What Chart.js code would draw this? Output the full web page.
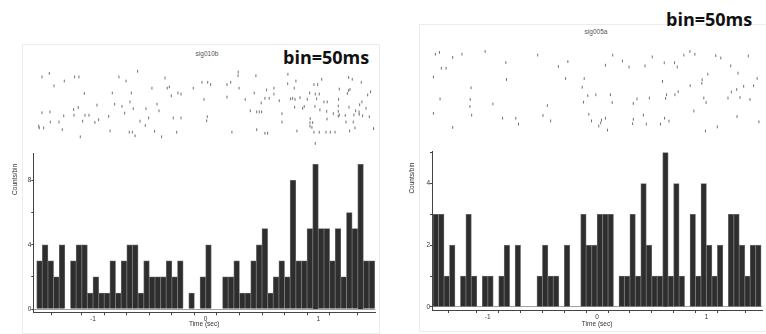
<!DOCTYPE html>
<html>
<head>
<meta charset="utf-8">
<script src="https://cdn.jsdelivr.net/npm/chart.js@4.4.1/dist/chart.umd.min.js"></script>
<style>
  body { margin: 0; background: #fff; }
  #page { position: relative; width: 766px; height: 334px; overflow: hidden; font-family: "Liberation Sans", Arial, sans-serif; }
  .frame { position: absolute; border: 1px solid #ececec; }
  .box { position: absolute; }
  .sig { position: absolute; font-size: 6.5px; line-height: 8px; color: #555; transform: translateX(-50%); }
  .bin { position: absolute; font-family: "Open Sans", sans-serif; font-weight: 700; font-size: 18px; line-height: 18px; color: #111; }
</style>
</head>
<body>
<div id="page">
  <div class="frame" style="left:22px;top:44px;width:356px;height:288px"></div>
  <div class="frame" style="left:419px;top:24px;width:346px;height:306px"></div>
  <span class="sig" style="left:207px;top:50px">sig010b</span>
  <span class="sig" style="left:596px;top:28px">sig005a</span>
  <span class="bin" style="left:283px;top:48px">bin=50ms</span>
  <span class="bin" style="left:666px;top:10px">bin=50ms</span>

  <div class="box" style="left:0;top:60px;width:383px;height:92px"><canvas id="rasterA"></canvas></div>
  <div class="box" style="left:0;top:145px;width:383px;height:189px"><canvas id="histA"></canvas></div>
  <div class="box" style="left:383px;top:38px;width:383px;height:102px"><canvas id="rasterB"></canvas></div>
  <div class="box" style="left:383px;top:140px;width:383px;height:194px"><canvas id="histB"></canvas></div>
</div>
<script>
// 60 bins of 50 ms, -1.5 s .. 1.5 s
const binWidth = 0.05
const binCenters = Array.from({length: 60}, (_, i) => -1.5 + binWidth * (i + 0.5))

// sig010b counts/bin
const countsA = [3,4,3,2,4,0,3,4,4,1, 2,1,1,3,1,3,4,4,1,3, 2,2,2,3,2,3,0,1,0,2,
                 4,0,0,2,2,3,1,1,3,4, 5,1,2,3,2,8,3,3,5,9, 5,5,3,5,2,6,5,9,3,3]
// sig005a counts/bin
const countsB = [3,3,1,2,0,1,3,1,0,1, 1,0,1,2,0,2,0,0,0,1, 2,1,1,0,2,0,0,3,2,2,
                 3,3,3,0,1,1,3,1,4,2, 1,1,5,1,4,1,0,3,1,4, 2,1,2,0,3,3,2,1,2,2]

// raster ticks, sig010b: spike time (s) and trial row
const spikeTimesA = [-1.453,-1.388,-1.346,-1.255,-1.163,-1.125,-1.077,-0.770,-0.707,-0.604,-0.829,-0.660,-0.477,-0.361,-0.341,-0.323,-0.305,-0.246,-0.219,-0.110,-0.033,-0.015,
  -1.453,-1.382,-1.260,-1.172,-1.131,-1.169,-1.071,-1.036,-0.965,-0.808,-0.743,-0.672,-0.643,-0.719,-0.861,-0.530,-0.432,-0.414,-0.506,-0.583,-0.288,-0.219,
  -1.379,-1.302,-1.092,-0.950,-0.983,-1.482,-1.477,-1.438,-1.273,-1.113,-0.849,-0.678,-0.651,-0.627,-0.536,-0.453,-0.391,-0.257,
  0.018,0.044,0.189,0.222,0.289,0.287,0.296,0.446,0.730,0.801,0.728,0.961,0.994,1.030,1.269,1.301,1.381,0.606,0.541,0.786,1.186,1.281,1.269,1.257,1.464,1.438,
  0.431,0.606,0.923,0.973,1.008,0.189,0.351,0.526,0.564,0.653,0.754,0.772,0.793,0.837,0.902,0.985,1.050,1.079,1.180,1.387,1.367,0.493,0.790,0.875,0.861,0.970,
  1.014,1.074,1.177,1.177,1.272,1.331,1.361,1.363,1.393,1.423,1.239,1.186,1.177,1.133,1.316,1.452,0.396,0.453,0.476,0.497,0.677,0.014,0.009,0.677,0.928,0.926,
  0.950,0.926,0.943,1.077,1.245,1.310,1.325,1.278,1.490,0.233,0.453,0.526,0.550,0.810,0.961,1.008,1.068,1.106,1.148,0.973]
const spikeTrialsA = [6.7,4.7,11.7,9,6.7,6.7,16,6.7,9,3.5,15.7,15.7,13,7.3,13,12.3,17.3,15.7,16.3,13,9.7,19.3,
  26.8,26.3,28.5,25,23.8,28.2,28.2,28.2,22.5,22,23.2,20.7,24.5,27,28.8,24.5,22,25.7,29.7,31.5,29.7,29.7,
  32,32,31.5,30.7,32.2,34.3,35.3,35.3,36.3,40.3,37,37.7,37.7,39.7,34,37.2,40.3,37.7,
  9.7,11,11,9.7,4,6,13,6,5.2,9,10.5,11,11,8,7,8,9.7,13,14,13,13.5,13.7,14.3,16,15,16.8,
  15.7,16.3,15.7,16.3,16.3,18,19.3,18.7,18.7,20,19,18.7,19.3,18.3,19.3,19,20.7,20.7,19.3,20.7,22.3,21.3,23.7,23.3,24.3,23.2,
  25.2,26,23,26,23.7,25.7,26.3,27.7,28.5,24.3,28.3,28,28.7,27.3,28,29,25.7,26.3,26.3,26.3,27.3,29,31.3,32,30,32.3,
  32.3,34.3,35,30.3,32,32,35.3,37,35.7,37.7,36.3,38.3,38.3,37,37.7,37.7,37.7,37.7,37.7,44]

// raster ticks, sig005a
const spikeTimesB = [-1.479,-1.442,-1.320,-1.235,-1.022,-0.832,-0.540,-0.263,-0.350,-1.424,-1.381,-1.497,-0.826,-0.284,-0.113,-1.152,-0.131,
  -1.436,-1.159,-1.162,-0.951,-0.451,-0.080,-0.119,-1.497,-1.146,-0.862,-0.741,-0.716,-0.491,-0.421,-0.070,-0.046,-1.320,
  0.149,0.082,0.238,0.299,0.512,0.445,0.622,0.716,0.741,0.802,0.857,0.903,1.095,1.141,1.393,1.232,1.299,1.022,0.606,0.970,0.967,0.860,
  1.475,1.442,1.351,1.287,1.238,0.750,0.720,0.643,0.634,0.485,0.372,0.338,-0.006,0.128,0.144,0.985,1.006,1.207,1.317,1.409,0.894,
  0.430,0.046,0.039,0.082,0.021,0.101,0.338,0.332,0.625,0.665,0.457,0.588,1.290,1.109,1.000,1.491]
const spikeTrialsB = [6.2,5.2,8,6.2,4.7,10.8,6.7,10.3,13,14,14,18.8,20.2,19.7,19.7,24.8,24.5,
  31,31.3,35.2,33.8,34.7,29.2,32.8,39,40,41.7,41.7,45,40.2,43.2,39.5,43.2,46.8,
  6.7,12.3,10,13.3,7.7,12.7,11,11,13.3,6.7,4.7,6.2,7,8.3,7.2,12.7,16.7,17.3,21.3,20.3,22.3,23.7,
  19.7,23.7,24,25.8,27.2,27,28.7,28.7,30.7,30.5,31,33.5,28.7,28.7,33,30.5,33,30.5,30.2,31.3,37.7,
  40,42.7,44.3,41.7,46,48.3,42.3,44.7,41.7,43.3,45,45,40.8,46.5,48.8,43.7]

const textColor = '#333'
const tinyFont = {family: 'Liberation Sans', size: 6.5}

const rasterChart = (id, times, trials, p) => {
  new Chart(document.getElementById(id), {
    type: 'scatter',
    data: {
      datasets: [{
        data: times.map((t, i) => ({x: t, y: trials[i]})),
        pointStyle: 'line',
        rotation: 90,
        radius: 1.4,
        borderWidth: 1,
        borderColor: '#707070',
      }]
    },
    options: {
      responsive: true,
      maintainAspectRatio: false,
      animation: false,
      layout: {padding: {left: p.left, right: p.right, top: 0, bottom: 0}},
      plugins: {legend: {display: false}, tooltip: {enabled: false}},
      scales: {
        x: {type: 'linear', min: p.xMin, max: p.xMax, display: false},
        y: {min: 0, max: p.trials, reverse: true, display: false},
      }
    }
  })
}

const histChart = (id, counts, p) => {
  new Chart(document.getElementById(id), {
    type: 'bar',
    data: {
      datasets: [{
        data: counts.map((c, i) => ({x: binCenters[i], y: c})),
        backgroundColor: '#2e2e2e',
        borderColor: '#6e6e6e',
        borderWidth: 0.8,
        barPercentage: 1,
        categoryPercentage: 1,
      }]
    },
    options: {
      responsive: true,
      maintainAspectRatio: false,
      animation: false,
      layout: {padding: {left: 0, right: p.right, top: p.top, bottom: 0}},
      plugins: {legend: {display: false}, tooltip: {enabled: false}},
      scales: {
        x: {
          type: 'linear', offset: false, min: p.xMin, max: p.xMax,
          grid: {drawOnChartArea: false, tickLength: 3, tickColor: '#444'},
          border: {color: '#444', width: 1},
          ticks: {
            stepSize: 0.2, autoSkip: false, maxRotation: 0, padding: 0, font: tinyFont, color: textColor,
            callback: v => Math.abs(v - Math.round(v)) < 1e-6 ? String(Math.round(v)) : ''
          },
          title: {display: true, text: 'Time (sec)', font: tinyFont, color: textColor, padding: {top: 0, bottom: 6}},
          afterFit: s => { s.height = p.xH }
        },
        y: {
          min: p.yMin, max: p.yMax,
          grid: {
            drawOnChartArea: true, tickLength: 2, tickColor: '#444',
            color: c => c.tick && c.tick.value === 0 ? '#a0a0a0' : 'rgba(0,0,0,0)'
          },
          border: {color: '#444', width: 1},
          ticks: {
            stepSize: p.step, includeBounds: false, padding: 0, font: tinyFont, color: textColor,
            callback: v => v % p.labelEvery === 0 ? String(v) : ''
          },
          // trailing spaces push the title a little below the top of the axis
          title: {display: true, text: 'Counts/bin      ', align: 'end', font: tinyFont, color: textColor, padding: {top: p.titleX, bottom: 0}},
          afterFit: s => { s.width = p.yW }
        }
      }
    }
  })
}

rasterChart('rasterA', spikeTimesA, spikeTrialsA, {left: 33.3, right: 8, xMin: -1.53, xMax: 1.503, trials: 46})
histChart('histA', countsA, {right: 8, top: 8, xMin: -1.53, xMax: 1.503, xH: 21.7, yMin: -0.2, yMax: 9.7, step: 2, labelEvery: 4, yW: 33.3, titleX: 11})

rasterChart('rasterB', spikeTimesB, spikeTrialsB, {left: 49, right: 3.8, xMin: -1.51, xMax: 1.51, trials: 51})
histChart('histB', countsB, {right: 3.8, top: 11.7, xMin: -1.51, xMax: 1.51, xH: 24, yMin: -0.1, yMax: 5.03, step: 1, labelEvery: 2, yW: 49, titleX: 25})
</script>
</body>
</html>
